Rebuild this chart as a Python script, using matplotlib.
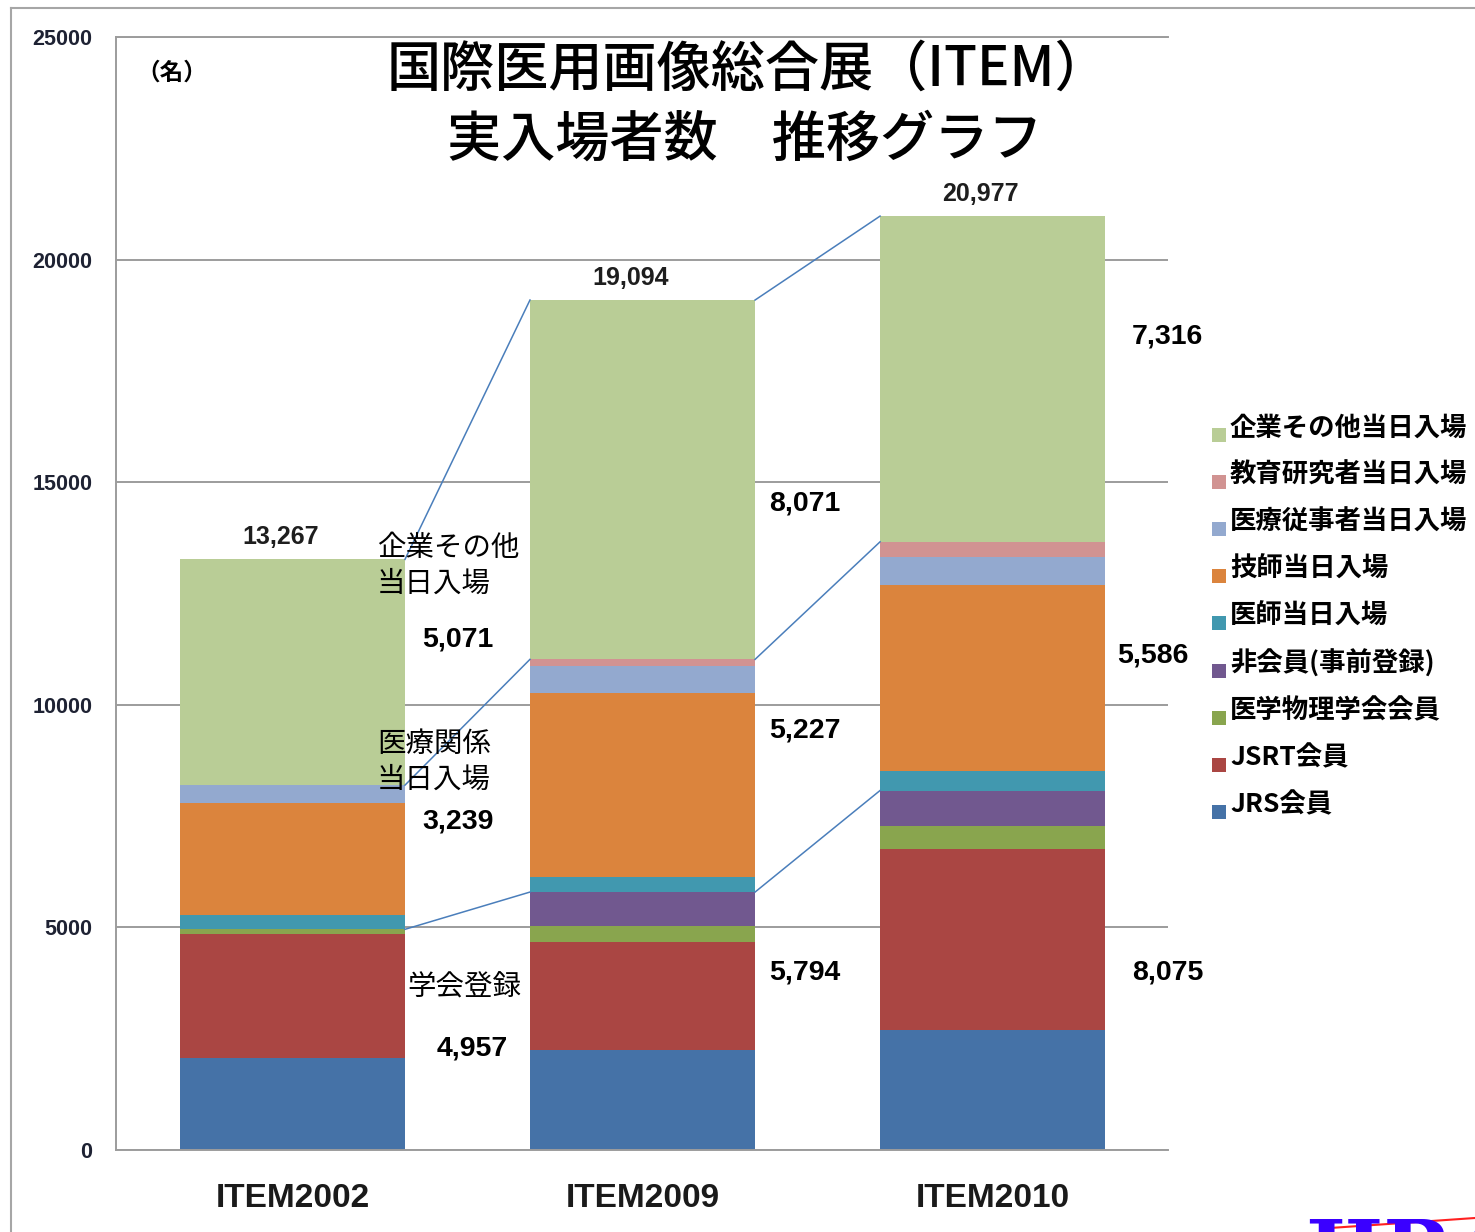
"""ITEM visitor counts: stacked bar chart with group callouts."""

import numpy as np
import matplotlib
matplotlib.use("Agg")
import matplotlib.pyplot as plt
from matplotlib.patches import Rectangle
from matplotlib.lines import Line2D

W, H = 1475, 1232
CJK = "Noto Sans CJK JP"
SANS = "Liberation Sans"

# ---- data (people) ----
categories = ["ITEM2002", "ITEM2009", "ITEM2010"]

series_names = [
    "JRS会員", "JSRT会員", "医学物理学会会員", "非会員(事前登録)",
    "医師当日入場", "技師当日入場", "医療従事者当日入場", "教育研究者当日入場",
    "企業その他当日入場",
]
jrs = [2074, 2250, 2700]
jsrt = [2773, 2420, 4060]
med_physics = [110, 355, 525]
non_member = [0, 769, 790]
doctor_day = [323, 333, 440]
tech_day = [2510, 4135, 4180]
med_staff_day = [406, 613, 615]
edu_day = [0, 146, 351]
company_day = [5071, 8071, 7316]

member_total = [4957, 5794, 8075]
medical_total = [3239, 5227, 5586]
grand_total = [13267, 19094, 20977]

colors = ["#4572A7", "#AA4643", "#89A54E", "#71588F", "#4198AF",
          "#DB843D", "#93A9CF", "#D19392", "#B9CD96"]

# label placement: (offset from bar right edge in px, y value)
label_layout = [
    [(17, 11460), (17, 7370), (32, 2270)],
    [(14, 14516), (14, 9415), (14, 3977)],
    [(27, 18268), (12, 11100), (27, 3977)],
]

PT = 0.72  # points per pixel at dpi 100


def fx(px):
    return px / W


def fy(py):
    return 1 - py / H


fig = plt.figure(figsize=(W / 100, H / 100), dpi=100)
ax = fig.add_axes([fx(116), fy(1150), fx(1168) - fx(116), fy(37) - fy(1150)])

x = np.arange(len(categories))
bw = 0.643
stack = [jrs, jsrt, med_physics, non_member, doctor_day, tech_day,
         med_staff_day, edu_day, company_day]
bottom = np.zeros(len(categories))
cum = []
for vals, c in zip(stack, colors):
    ax.bar(x, vals, bw, bottom=bottom, color=c, edgecolor="none", zorder=2)
    bottom = bottom + np.array(vals)
    cum.append(bottom.copy())

ax.set_xlim(-0.504, 2.501)
ax.set_ylim(0, 25000)
ax.set_yticks(np.arange(0, 25001, 5000))
ax.set_xticks(x)
ax.set_xticklabels(categories, fontfamily=SANS, fontweight="bold", fontsize=24,
                   color="#1A1A1A")
for lab in ax.get_yticklabels():
    lab.set_fontfamily(SANS)
    lab.set_fontweight("bold")
    lab.set_fontsize(15.5)
    lab.set_color("#1E2233")
ax.tick_params(axis="y", length=0, pad=17)
ax.tick_params(axis="x", length=0, pad=24)
ax.grid(axis="y", color="#9C9C9C", linewidth=1.4, zorder=0)
ax.set_axisbelow(True)
ax.spines["right"].set_visible(False)
for side in ["left", "bottom", "top"]:
    ax.spines[side].set_color("#9C9C9C")
    ax.spines[side].set_linewidth(1.4)

# callout lines between group tops (members / medical day / company day)
group_tops = [cum[3], cum[7], cum[8]]
for top in group_tops:
    for i in range(len(categories) - 1):
        ax.plot([x[i] + bw / 2, x[i + 1] - bw / 2], [top[i], top[i + 1]],
                color="#4A7EBB", linewidth=1.1, zorder=3)

# group value labels
for i in range(len(categories)):
    vals = [company_day[i], medical_total[i], member_total[i]]
    for v, (off, yv) in zip(vals, label_layout[i]):
        ax.annotate(f"{v:,}", xy=(x[i] + bw / 2, yv), xytext=(off * PT, 0),
                    textcoords="offset points", ha="left", va="center",
                    fontfamily=SANS, fontweight="bold", fontsize=20.5,
                    zorder=4)

# totals above bars
for i, t in enumerate(grand_total):
    ax.annotate(f"{t:,}", xy=(x[i], t), xytext=(-12 * PT, 22 * PT),
                textcoords="offset points", ha="center", va="center",
                fontfamily=SANS, fontweight="bold", fontsize=18, color="#1E1E1E")

# group names next to the first bar
for txt, yv in [("企業その他\n当日入場", 13123), ("医療関係\n当日入場", 8718),
                ("学会登録", 3640)]:
    xo = -28 if "\n" in txt else 2
    ax.annotate(txt, xy=(x[0] + bw / 2, yv), xytext=(xo * PT, 0),
                textcoords="offset points", ha="left", va="center",
                fontfamily=CJK, fontsize=20.5, linespacing=1.25, zorder=4)

# title and unit
fig.text(fx(748), fy(70), "国際医用画像総合展（ITEM）", ha="center", va="center",
         fontfamily=CJK, fontsize=39, fontweight="medium")
fig.text(fx(745), fy(140), "実入場者数　推移グラフ", ha="center", va="center",
         fontfamily=CJK, fontsize=39, fontweight="medium")
fig.text(fx(136), fy(73), "（名）", ha="left", va="center", fontfamily=CJK,
         fontsize=17, fontweight="bold")

# legend (top series first)
for k, (name, c) in enumerate(zip(series_names[::-1], colors[::-1])):
    yc = 428 + k * 47.1
    fig.add_artist(Rectangle((fx(1212), fy(yc + 14)), fx(14), 14 / H,
                             transform=fig.transFigure, facecolor=c, edgecolor="none"))
    fig.text(fx(1230), fy(yc), name, ha="left", va="center", fontfamily=CJK,
             fontsize=19, fontweight="bold")

# outer chart border
fig.add_artist(Line2D([fx(11), fx(11)], [0, fy(8)], transform=fig.transFigure,
                      color="#A6A6A6", linewidth=1.5))
fig.add_artist(Line2D([fx(11), 1], [fy(8), fy(8)], transform=fig.transFigure,
                      color="#A6A6A6", linewidth=1.5))

# cropped logo at the bottom right (cut off by the picture edge, as in the source)
fig.text(fx(1305), fy(1216), "JIRA", ha="left", va="top", fontfamily="DejaVu Serif",
         fontweight="bold", fontsize=60, color="#3A00FF")
fig.add_artist(Line2D([fx(1330), 1], [fy(1228), fy(1218)], transform=fig.transFigure,
                      color="#FF2020", linewidth=1.5))

fig.savefig("out.png", dpi=100)
